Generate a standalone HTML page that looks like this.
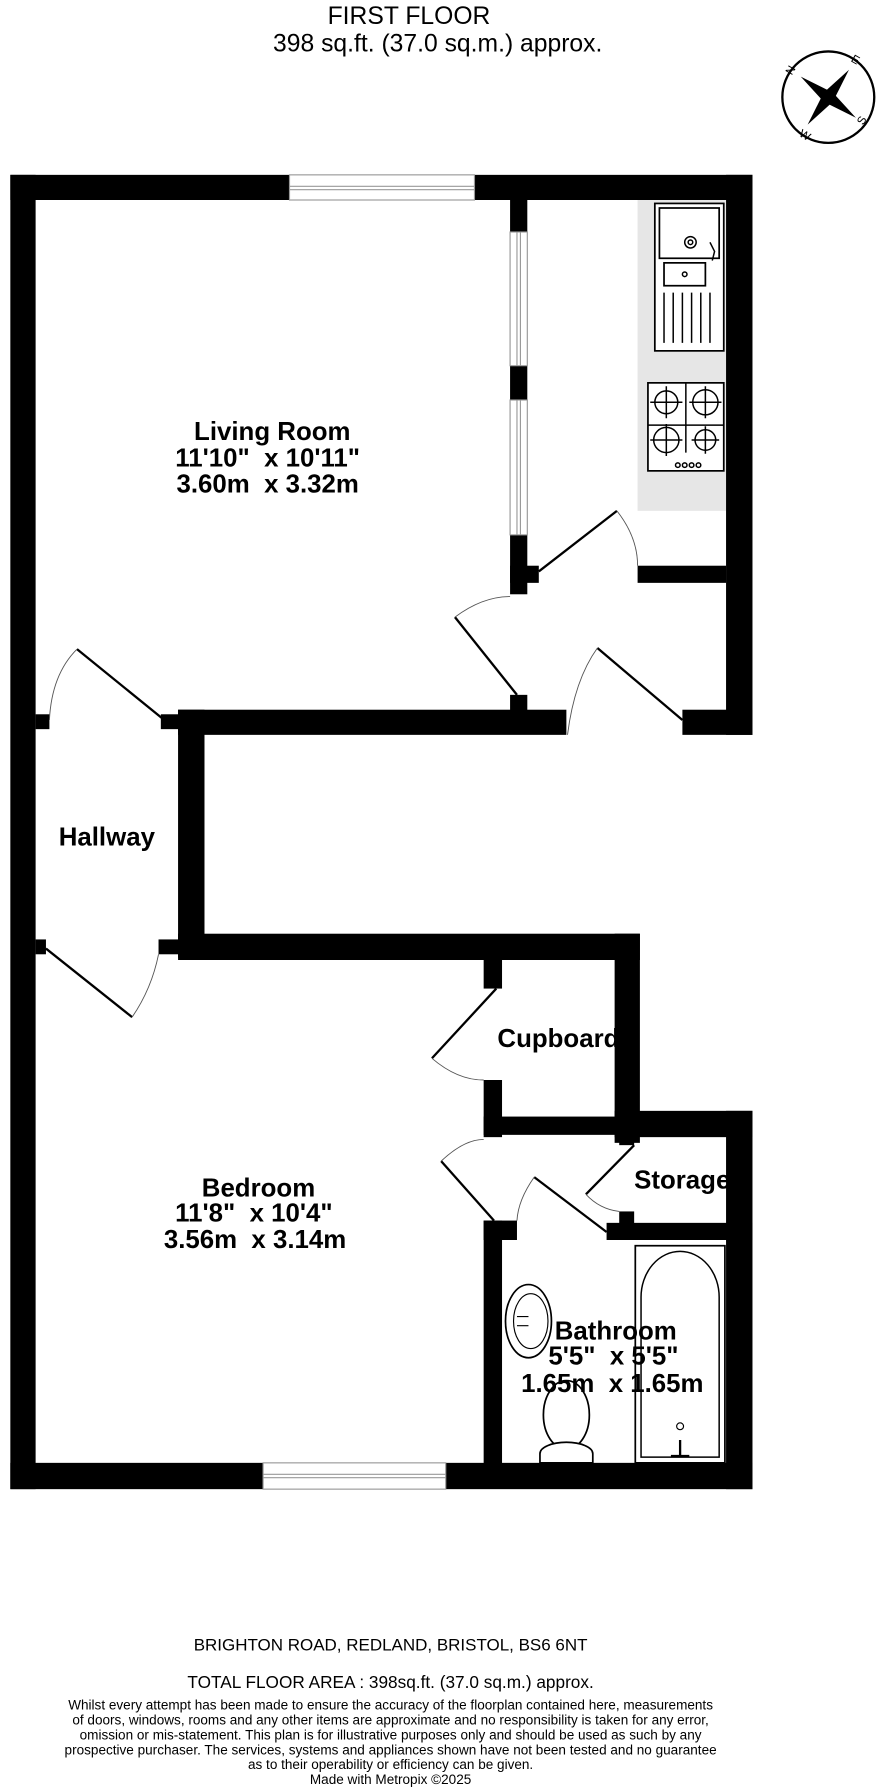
<!DOCTYPE html>
<html><head><meta charset="utf-8"><style>
html,body{margin:0;padding:0;background:#fff;}
svg{display:block;}
.r{font-family:"Liberation Sans Narrow","Liberation Sans",sans-serif;font-weight:bold;font-size:22.5px;fill:#000;text-anchor:middle;white-space:pre;}
.t{font-family:"Liberation Sans",sans-serif;fill:#000;text-anchor:middle;}
</style></head><body>
<svg width="880" height="1792" viewBox="0 0 766 1568" preserveAspectRatio="none" xmlns="http://www.w3.org/2000/svg" xml:space="preserve">
<rect width="766" height="1568" fill="#fff"/>
<text class="t" x="356" y="21" font-size="21.5">FIRST FLOOR</text>
<text class="t" x="381" y="45" font-size="21.5">398 sq.ft. (37.0 sq.m.) approx.</text>
<g transform="translate(721,85)">
<circle r="40" fill="none" stroke="#000" stroke-width="2"/>
<polygon points="-24,-18 4,-4 24,18 -4,4" fill="#000"/>
<polygon points="18,-24 4,4 -18,24 -4,-4" fill="#000"/>
<text class="t" font-size="10" x="-30" y="-22" transform="rotate(-60 -30 -22)">N</text>
<text class="t" font-size="10" x="22" y="-30" transform="rotate(30 22 -30)">E</text>
<text class="t" font-size="10" x="32" y="22" transform="rotate(-60 32 22)">S</text>
<text class="t" font-size="10" x="-22" y="36" transform="rotate(30 -22 36)">W</text>
</g>
<rect x="555" y="175" width="77" height="272" fill="#e6e6e6"/>
<g fill="#fff" stroke="#000" stroke-width="1.5">
<rect x="570" y="178" width="60" height="129"/>
<rect x="574" y="182" width="52" height="44"/>
<rect x="578" y="230" width="36" height="20"/>
<rect x="564" y="335" width="66" height="77"/>
</g>
<g fill="none" stroke="#000" stroke-width="1.3">
<circle cx="601" cy="212" r="5"/><circle cx="601" cy="212" r="2"/>
<circle cx="596" cy="240" r="2"/>
<path d="M578 256v44M586 256v44M594 256v44M602 256v44M610 256v44M618 256v44"/>
<path d="M597 335v61M564 372h66"/>
<circle cx="580" cy="352" r="10"/><circle cx="614" cy="352" r="11"/>
<circle cx="580" cy="385" r="11"/><circle cx="614" cy="385" r="9"/>
<path d="M580 338v28M566 352h28M614 338v28M600 352h28M580 371v28M566 385h28M614 373v24M602 385h24"/>
<circle cx="590" cy="407" r="2"/><circle cx="596" cy="407" r="2"/><circle cx="602" cy="407" r="2"/><circle cx="608" cy="407" r="2"/>
<path d="M618 212l4 8-2 8"/>
</g>
<rect x="553" y="1090" width="78" height="190" fill="#fff" stroke="#000" stroke-width="1.5"/>
<path d="M558 1275V1135a34 40 0 0 1 68 0V1275z" fill="none" stroke="#000" stroke-width="1.3"/>
<circle cx="592" cy="1248" r="3" fill="none" stroke="#000"/>
<path d="M592 1260v14M584 1274h16" stroke="#000" stroke-width="2"/>
<ellipse cx="460" cy="1156" rx="20" ry="32" fill="#fff" stroke="#000" stroke-width="1.5"/>
<ellipse cx="462" cy="1156" rx="15" ry="24" fill="none" stroke="#000"/>
<path d="M450 1152h10M450 1160h10" stroke="#000"/>
<ellipse cx="493" cy="1238" rx="20" ry="30" fill="#fff" stroke="#000" stroke-width="1.5"/>
<path d="M470 1280v-8a23 10 0 0 1 46 0v8z" fill="#fff" stroke="#000" stroke-width="1.5"/>
<text class="r" x="237" y="385">Living Room</text>
<text class="r" x="233" y="408">11'10"  x 10'11"</text>
<text class="r" x="233" y="431">3.60m  x 3.32m</text>
<text class="r" x="93" y="740">Hallway</text>
<text class="r" x="433" y="916" style="text-anchor:start">Cupboard</text>
<text class="r" x="225" y="1047">Bedroom</text>
<text class="r" x="221" y="1069">11'8"  x 10'4"</text>
<text class="r" x="222" y="1092">3.56m  x 3.14m</text>
<text class="r" x="552" y="1040" style="text-anchor:start">Storage</text>
<text class="r" x="536" y="1172">Bathroom</text>
<text class="r" x="534" y="1194">5'5"  x 5'5"</text>
<text class="r" x="533" y="1218">1.65m  x 1.65m</text>
<g fill="#000">
<rect x="9" y="153" width="243" height="22"/>
<rect x="413" y="153" width="242" height="22"/>
<rect x="9" y="153" width="22" height="1150"/>
<rect x="632" y="153" width="23" height="490"/>
<rect x="444" y="175" width="15" height="28"/>
<rect x="444" y="320" width="15" height="30"/>
<rect x="444" y="468" width="15" height="52"/>
<rect x="444" y="495" width="25" height="15"/>
<rect x="555" y="495" width="77" height="15"/>
<rect x="155" y="621" width="338" height="22"/>
<rect x="594" y="621" width="61" height="22"/>
<rect x="444" y="608" width="15" height="14"/>
<rect x="31" y="625" width="12" height="13"/>
<rect x="140" y="625" width="20" height="13"/>
<rect x="155" y="621" width="23" height="217"/>
<rect x="31" y="822" width="9" height="13"/>
<rect x="138" y="822" width="20" height="13"/>
<rect x="155" y="817" width="402" height="23"/>
<rect x="535" y="817" width="22" height="183"/>
<rect x="421" y="840" width="16" height="25"/>
<rect x="421" y="945" width="16" height="50"/>
<rect x="421" y="977" width="136" height="16"/>
<rect x="535" y="972" width="120" height="23"/>
<rect x="632" y="972" width="23" height="331"/>
<rect x="539" y="993" width="13" height="9"/>
<rect x="539" y="1060" width="13" height="12"/>
<rect x="528" y="1070" width="127" height="15"/>
<rect x="421" y="1068" width="16" height="222"/>
<rect x="421" y="1068" width="29" height="17"/>
<rect x="9" y="1280" width="220" height="23"/>
<rect x="388" y="1280" width="267" height="23"/>
</g>
<g fill="#fff" stroke="#999" stroke-width="1">
<rect x="252" y="153" width="161" height="22"/><path d="M252 163h161M252 166h161"/>
<rect x="229" y="1280" width="159" height="23"/><path d="M229 1290h159M229 1293h159"/>
<rect x="444" y="203" width="15" height="117"/><path d="M450 203v117M453 203v117"/>
<rect x="444" y="350" width="15" height="118"/><path d="M450 350v118M453 350v118"/>
</g>
<g fill="none" stroke="#000" stroke-width="2">
<path d="M469 500L537 447"/><path d="M396 540L450 608"/><path d="M520 567L594 630"/>
<path d="M67 568L143 630"/><path d="M40 830L115 890"/><path d="M432 865L376 926"/>
<path d="M384 1016L430 1068"/><path d="M465 1030L528 1078"/><path d="M552 1002L510 1045"/>
</g>
<g fill="none" stroke="#555" stroke-width="0.8">
<path d="M537 447Q555 470 555 495"/><path d="M396 540Q420 522 444 522"/><path d="M520 567Q500 595 494 643"/>
<path d="M67 568Q45 590 43 630"/><path d="M115 890Q132 865 138 835"/><path d="M376 926Q398 945 421 945"/>
<path d="M384 1016Q404 997 421 997"/><path d="M465 1030Q451 1050 450 1068"/><path d="M510 1045Q522 1058 539 1060"/>
</g>
<text class="t" x="340" y="1444" font-size="14.8">BRIGHTON ROAD, REDLAND, BRISTOL, BS6 6NT</text>
<text class="t" x="340" y="1477" font-size="15">TOTAL FLOOR AREA : 398sq.ft. (37.0 sq.m.) approx.</text>
<g class="t" font-size="11.8">
<text x="340" y="1496">Whilst every attempt has been made to ensure the accuracy of the floorplan contained here, measurements</text>
<text x="340" y="1509">of doors, windows, rooms and any other items are approximate and no responsibility is taken for any error,</text>
<text x="340" y="1522">omission or mis-statement. This plan is for illustrative purposes only and should be used as such by any</text>
<text x="340" y="1535">prospective purchaser. The services, systems and appliances shown have not been tested and no guarantee</text>
<text x="340" y="1548">as to their operability or efficiency can be given.</text>
<text x="340" y="1561">Made with Metropix ©2025</text>
</g>
</svg>
</body></html>
